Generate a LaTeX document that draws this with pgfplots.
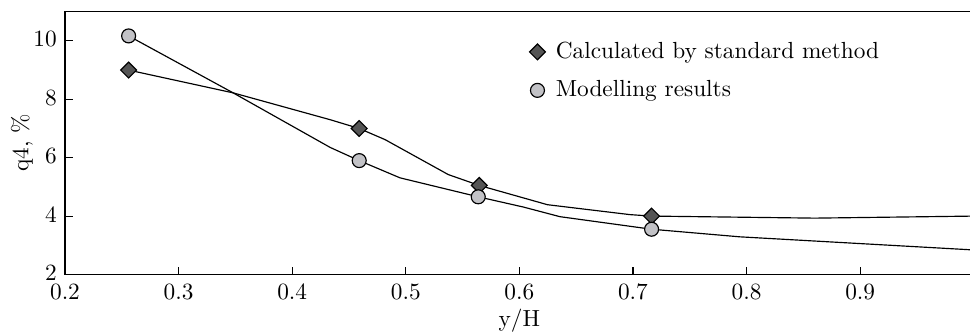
\documentclass[border=0pt]{standalone}
\usepackage{pgfplots}
\pgfplotsset{compat=1.18}
\definecolor{darkmark}{HTML}{555555}
\definecolor{lightmark}{HTML}{C2C2C6}
\begin{document}
\begin{tikzpicture}
\path[use as bounding box] (-27.9pt,-24.9pt) rectangle (388.4pt,117.8pt);
\begin{axis}[
  at={(0,0)}, anchor=south west,
  scale only axis, width=390pt, height=112.8pt,
  xmin=0.2, xmax=1.0, ymin=2, ymax=11,
  xtick={0.2,0.3,0.4,0.5,0.6,0.7,0.8,0.9},
  ytick={2,4,6,8,10},
  xtick pos=bottom, ytick pos=left,
  tick align=inside,
  major tick length=3.4pt,
  tick style={black, line width=0.5pt},
  axis line style={black, line width=0.6pt},
  xticklabel style={yshift=-0.8pt},
  yticklabel style={yshift=0.6pt},
  xlabel={y/H}, ylabel={q4, \%},
  every axis x label/.style={at={(axis description cs:0.5,0)}, anchor=base, yshift=-22.4pt},
  every axis y label/.style={at={(axis description cs:-0.0474,0.5)}, rotate=90, anchor=center},
  legend style={draw=none, fill=none, at={(rel axis cs:0.503,0.922)}, anchor=north west, row sep=4pt},
  legend cell align=left,
  legend image code/.code={\path (0cm,0cm) (0.2cm,0cm); \draw[#1] plot coordinates {(0cm,0cm)};},
]
% lines
\addplot[black, line width=0.5pt, forget plot] coordinates {
 (0.256,9.0) (0.348,8.22) (0.4335,7.30) (0.459,7.0) (0.4817,6.62) (0.5375,5.42) (0.5647,5.05) (0.6247,4.39) (0.6974,4.05) (0.7164,4.0) (0.86,3.93) (1.0,4.0)};
\addplot[black, line width=0.5pt, forget plot] coordinates {
 (0.256,10.17) (0.348,8.22) (0.4335,6.35) (0.459,5.9) (0.4949,5.31) (0.5638,4.66) (0.6035,4.31) (0.6357,3.98) (0.7164,3.55) (0.794,3.29) (1.0,2.84)};
% markers
\addplot[only marks, mark=square*, mark size=2.4pt, mark options={rotate=45, fill=darkmark, draw=black, line width=0.5pt}] coordinates {
 (0.256,9.0) (0.459,7.0) (0.5647,5.05) (0.7164,4.0)};
\addlegendentry{Calculated by standard method}
\addplot[only marks, mark=*, mark size=3pt, mark options={fill=lightmark, draw=black, line width=0.5pt}] coordinates {
 (0.256,10.17) (0.459,5.9) (0.5638,4.66) (0.7164,3.55)};
\addlegendentry{Modelling results}
\end{axis}
\end{tikzpicture}
\end{document}
